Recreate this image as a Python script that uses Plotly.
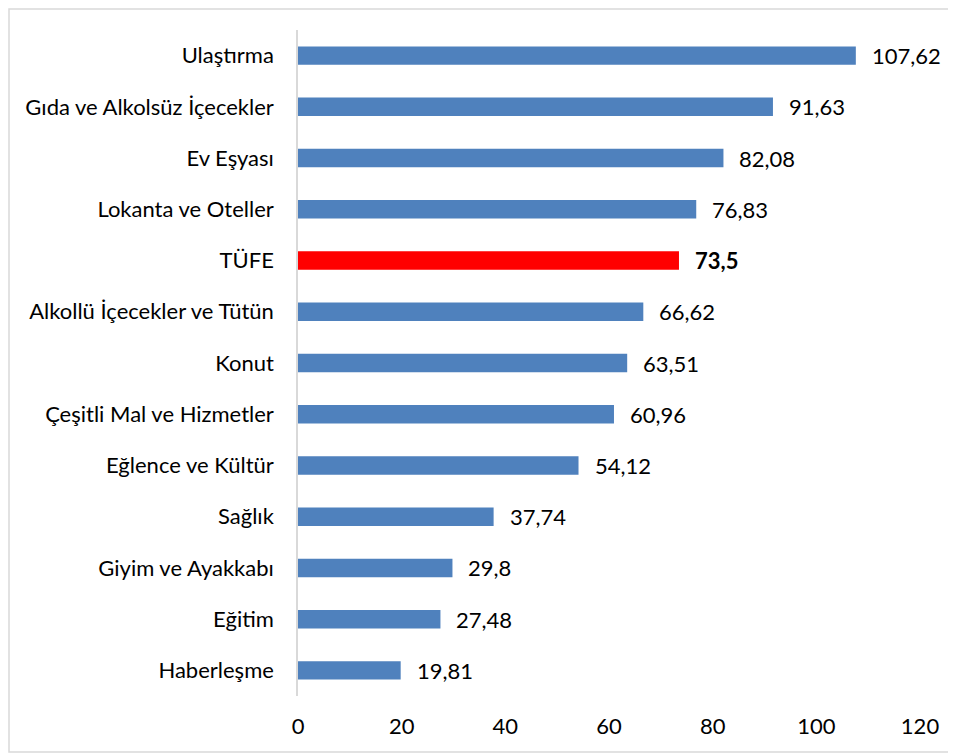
import plotly.graph_objects as go

# categories top to bottom
categories = [
    "Ulaştırma", "Gıda ve Alkolsüz İçecekler", "Ev Eşyası", "Lokanta ve Oteller",
    "TÜFE", "Alkollü İçecekler ve Tütün", "Konut", "Çeşitli Mal ve Hizmetler",
    "Eğlence ve Kültür", "Sağlık", "Giyim ve Ayakkabı", "Eğitim", "Haberleşme",
]
values = [107.62, 91.63, 82.08, 76.83, 73.5, 66.62, 63.51, 60.96, 54.12, 37.74, 29.8, 27.48, 19.81]
x_ticks = [0, 20, 40, 60, 80, 100, 120]

BLUE = "#4F81BD"
RED = "#FF0000"
FONT = "Lato"
FS = 22

colors = [RED if c == "TÜFE" else BLUE for c in categories]
labels = [f"{v:g}".replace(".", ",") for v in values]

# page body has an 8px margin, so the figure is a bit smaller than the window
W, H = 948, 745
ml, mr, mt, mb = 290, 36, 22, 57

fig = go.Figure(go.Bar(
    y=categories, x=values, orientation="h",
    marker=dict(color=colors, line=dict(width=0)),
    width=0.36,
))

# value labels to the right of each bar
for c, v, lab in zip(categories, values, labels):
    bold = c == "TÜFE"
    fig.add_annotation(
        x=v, y=c, text=f"<b>{lab}</b>" if bold else lab,
        xanchor="left", xshift=14, showarrow=False,
        font=dict(family=FONT, size=FS, color="black"),
    )

# light frame around the whole chart
pw, ph = W - ml - mr, H - mt - mb
fig.add_shape(
    type="rect", xref="paper", yref="paper",
    x0=-(ml - 1) / pw, x1=1 + (mr - 1) / pw,
    y0=-(mb - 1) / ph, y1=1 + (mt - 1) / ph,
    line=dict(color="#D9D9D9", width=1.5),
)

fig.update_layout(
    width=W, height=H,
    margin=dict(l=ml, r=mr, t=mt, b=mb),
    paper_bgcolor="white", plot_bgcolor="white",
    showlegend=False,
    font=dict(family=FONT, size=FS, color="black"),
    xaxis=dict(
        range=[0, 120], tickvals=x_ticks, showgrid=False, zeroline=False,
        showline=False, ticks="", ticklabelstandoff=15,
        tickfont=dict(family=FONT, size=FS),
    ),
    yaxis=dict(
        autorange="reversed", showgrid=False, zeroline=False,
        showline=True, linecolor="#D9D9D9", linewidth=1.5,
        ticks="", ticklabelstandoff=18,
        tickfont=dict(family=FONT, size=FS),
    ),
)

fig.write_html("out.html")
